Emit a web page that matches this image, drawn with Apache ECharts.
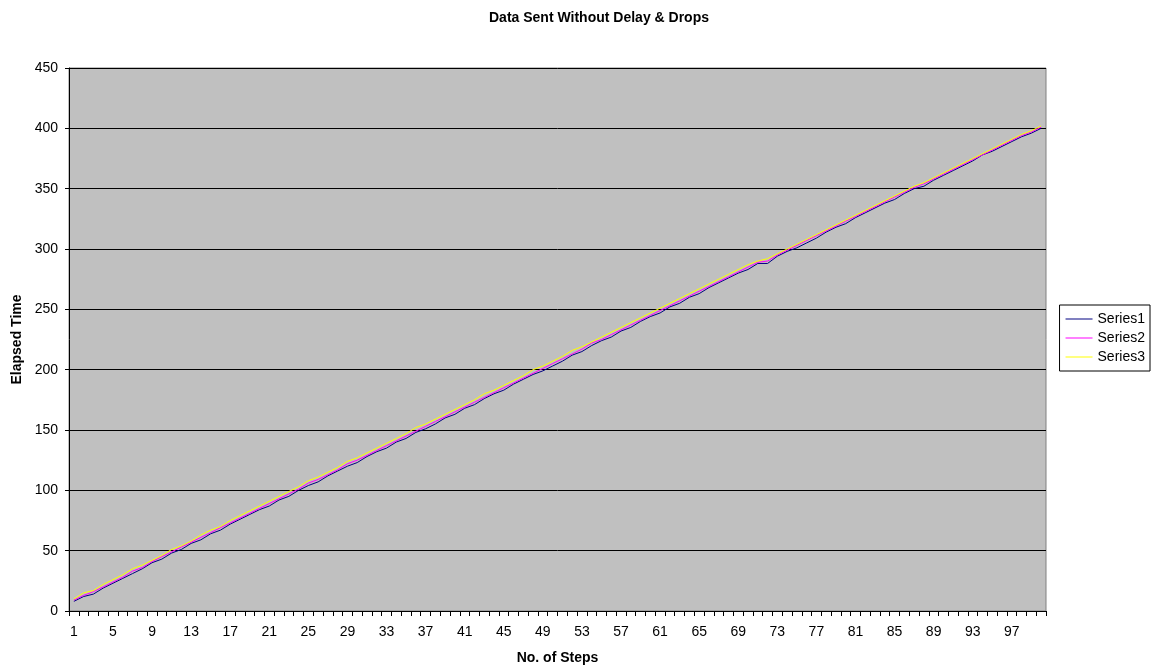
<!DOCTYPE html>
<html><head><meta charset="utf-8">
<script src="https://cdn.jsdelivr.net/npm/echarts@6/dist/echarts.min.js"></script>
<style>html,body{margin:0;padding:0;background:#fff}#c{width:1157px;height:671px}</style>
</head><body><div id="c"></div>
<script>
const steps = [];
for (let i = 1; i <= 100; i++) steps.push(String(i));
const series1 = [8,12,14,19,23,27,31,35,40,43,48,51,56,59,64,67,72,76,80,84,87,92,95,100,104,107,112,116,120,123,128,132,135,140,143,148,151,155,160,163,168,171,176,180,183,188,192,196,199,203,207,212,215,220,224,227,232,235,240,244,247,252,255,260,263,268,272,276,280,283,288,288,294,298,301,305,309,314,318,321,326,330,334,338,341,346,350,352,357,361,365,369,373,378,381,385,389,393,396,400];
const series2 = [9,13,16,20,24,28,33,36,41,45,49,53,57,61,65,69,73,77,81,85,89,93,97,101,106,109,113,117,122,125,129,133,137,141,145,149,153,157,161,165,169,173,177,181,185,189,193,197,201,205,209,213,217,222,225,229,233,237,241,245,249,253,257,261,265,269,273,277,281,285,289,290,295,299,303,307,311,315,319,323,327,331,335,339,343,347,351,354,358,362,366,370,374,378,382,386,390,394,397,401];
const series3 = [10,15,17,22,26,30,35,38,42,46,51,54,58,63,67,70,75,79,83,87,91,95,99,103,108,111,115,119,124,127,131,135,139,143,147,152,155,159,163,167,171,175,180,183,187,191,195,200,203,207,211,216,219,223,227,231,235,239,243,247,251,255,259,263,267,271,275,279,283,287,290,292,296,300,304,308,312,316,320,324,328,332,336,340,344,348,352,355,359,363,367,371,375,379,383,387,391,395,398,402];
const yTicks = [0,50,100,150,200,250,300,350,400,450];

const chart = echarts.init(document.getElementById('c'), null, {renderer:'canvas'});
const font = 'Arial, "Liberation Sans", sans-serif';
chart.setOption({
  animation:false,
  backgroundColor:'#ffffff',
  title:{text:'Data Sent Without Delay & Drops',left:484,top:6,
    textStyle:{fontFamily:font,fontSize:14,fontWeight:'bold',color:'#000'}},
  grid:{left:69,right:111,top:68,bottom:60,show:true,backgroundColor:'#C0C0C0',borderColor:'#808080',borderWidth:1},
  legend:{orient:'vertical',right:7,top:305,itemWidth:27,itemHeight:1,itemGap:5,
    padding:[7,5,7,6],borderColor:'#000',borderWidth:1,backgroundColor:'#fff',
    icon:'rect',textStyle:{fontFamily:font,fontSize:14,color:'#000'},
    data:['Series1','Series2','Series3']},
  xAxis:{type:'category',data:steps,boundaryGap:true,
    name:'No. of Steps',nameLocation:'middle',nameGap:40,
    nameTextStyle:{fontFamily:font,fontSize:14,fontWeight:'bold',color:'#000'},
    axisLine:{lineStyle:{color:'#000',width:1}},
    axisTick:{show:true,interval:0,length:5,lineStyle:{color:'#000'}},
    axisLabel:{interval:3,fontFamily:font,fontSize:14,color:'#000',margin:14},
    splitLine:{show:false}},
  yAxis:{type:'value',min:0,max:450,interval:50,
    name:'Elapsed Time',nameLocation:'middle',nameGap:45,
    nameTextStyle:{fontFamily:font,fontSize:14,fontWeight:'bold',color:'#000'},
    axisLine:{show:true,lineStyle:{color:'#000',width:1}},
    axisTick:{show:true,length:4,lineStyle:{color:'#000'}},
    axisLabel:{fontFamily:font,fontSize:14,color:'#000',margin:11},
    splitLine:{show:true,lineStyle:{color:'#000',width:1}}},
  series:[
    {name:'Series1',type:'line',data:series1,symbol:'none',lineStyle:{color:'#000080',width:1},itemStyle:{color:'#000080'}},
    {name:'Series2',type:'line',data:series2,symbol:'none',lineStyle:{color:'#FF00FF',width:1},itemStyle:{color:'#FF00FF'}},
    {name:'Series3',type:'line',data:series3,symbol:'none',lineStyle:{color:'#FFFF00',width:1},itemStyle:{color:'#FFFF00'}}
  ]
});
</script></body></html>
